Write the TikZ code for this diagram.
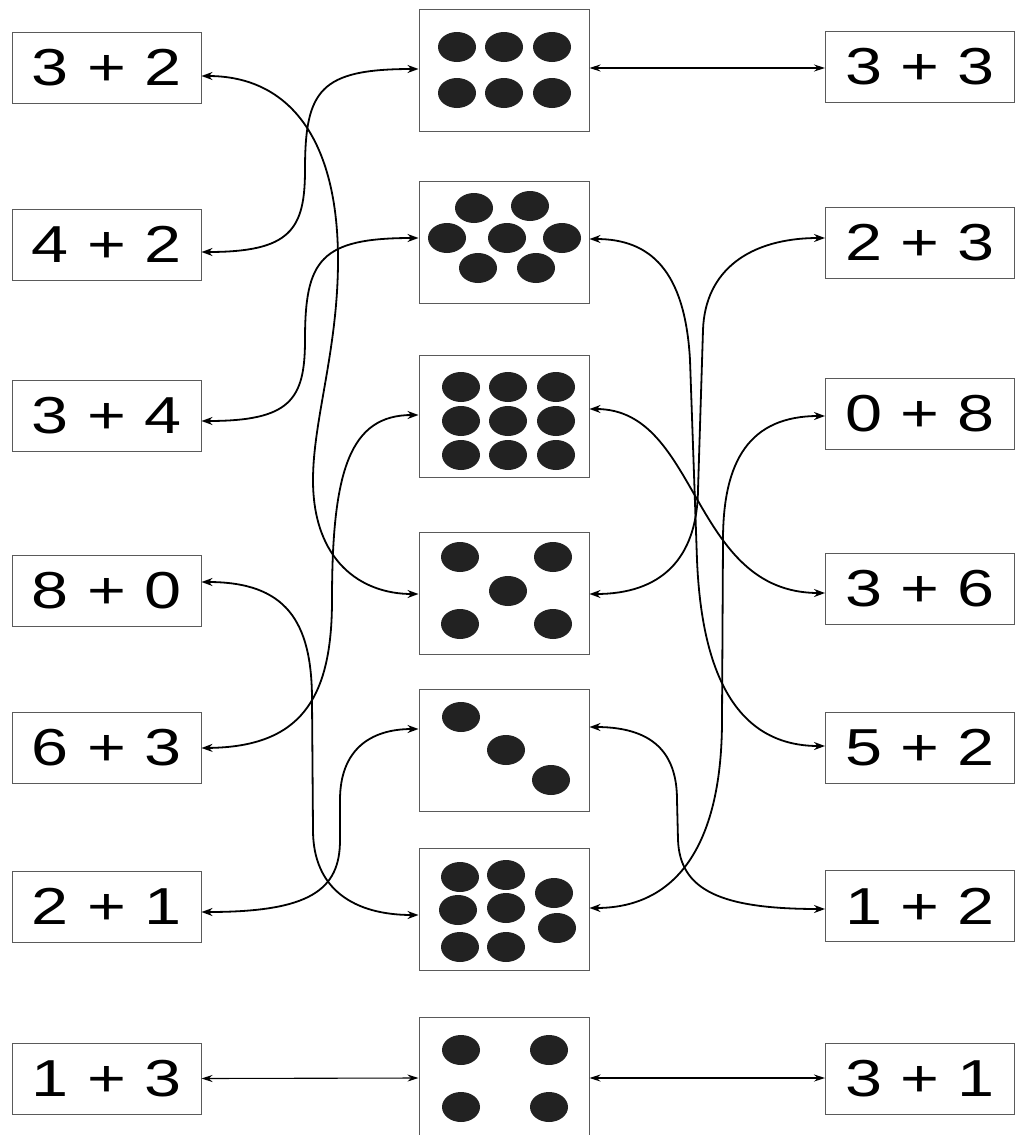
\documentclass[tikz,border=0pt]{standalone}
\usepackage{fontspec}
\setmainfont{Liberation Sans}
\usetikzlibrary{arrows.meta}
\definecolor{boxc}{HTML}{5A5A5A}
\definecolor{dotc}{HTML}{222222}
\begin{document}
\begin{tikzpicture}[x=1pt,y=-1pt,
  eqbox/.style={draw=boxc, line width=1pt, minimum width=189pt, minimum height=71pt, inner sep=0pt,
    font=\fontsize{52}{52}\selectfont, text=black},
  dotbox/.style={draw=boxc, line width=1pt, minimum width=170pt, minimum height=122pt, inner sep=0pt},
  dotf/.style={fill=dotc},
  link/.style={line width=1.8pt, {Stealth[length=11pt,width=8pt]}-{Stealth[length=11pt,width=8pt]}},
  flat/.style={line width=1.1pt, {Stealth[length=11pt,width=7pt]}-{Stealth[length=11pt,width=7pt]}}]
\useasboundingbox (0,0) rectangle (1019,1135);
\fill[white] (0,0) rectangle (1019,1135);

% left equation boxes
\node[eqbox] (L1) at (106.5,67.5)  {\scalebox{1.28}[1]{3 + 2}};
\node[eqbox] (L2) at (106.5,244.5) {\scalebox{1.28}[1]{4 + 2}};
\node[eqbox] (L3) at (106.5,416)   {\scalebox{1.28}[1]{3 + 4}};
\node[eqbox] (L4) at (106.5,590.5) {\scalebox{1.28}[1]{8 + 0}};
\node[eqbox] (L5) at (106.5,748)   {\scalebox{1.28}[1]{6 + 3}};
\node[eqbox] (L6) at (106.5,906.5) {\scalebox{1.28}[1]{2 + 1}};
\node[eqbox] (L7) at (106.5,1078.5){\scalebox{1.28}[1]{1 + 3}};

% right equation boxes
\node[eqbox] (R1) at (920,66.5)  {\scalebox{1.28}[1]{3 + 3}};
\node[eqbox] (R2) at (920,242.5) {\scalebox{1.28}[1]{2 + 3}};
\node[eqbox] (R3) at (920,414)   {\scalebox{1.28}[1]{0 + 8}};
\node[eqbox] (R4) at (920,589)   {\scalebox{1.28}[1]{3 + 6}};
\node[eqbox] (R5) at (920,747.5) {\scalebox{1.28}[1]{5 + 2}};
\node[eqbox] (R6) at (920,906)   {\scalebox{1.28}[1]{1 + 2}};
\node[eqbox] (R7) at (920,1078.5){\scalebox{1.28}[1]{3 + 1}};

% middle dot boxes
\node[dotbox] (M1) at (504,70) {};
\node[dotbox] (M2) at (504,242.5) {};
\node[dotbox] (M3) at (504,416) {};
\node[dotbox] (M4) at (504,593) {};
\node[dotbox] (M5) at (504,750.5) {};
\node[dotbox] (M6) at (504,909) {};
\node[dotbox] (M7) at (504,1078) {};

% dots
\foreach \p in {(457,47),(504,47),(552,47),(457,93),(504,93),(552,93),
  (474,208),(530,206),(447,238),(507,238),(562,238),(478,268),(536,268),
  (461,387),(508,387),(556,387),(461,421),(508,421),(556,421),(461,455),(508,455),(556,455),
  (460,557),(553,557),(508,591),(460,624),(553,624),
  (461,717),(506,750),(551,780),
  (460,877),(506,875),(458,910),(506,908),(460,947),(506,947),(554,893),(557,928),
  (461,1050),(549,1050),(461,1107),(549,1107)}
  \fill[dotf] \p ellipse [x radius=19, y radius=15];

% left connectors
\draw[link] ([yshift=-8.5pt]L1.east) .. controls (290,76) and (338,140) .. (338,260)
  .. controls (338,350) and (313,420) .. (313,480)
  .. controls (313,560) and (360,594) .. ([yshift=-1pt]M4.west);
\draw[link] ([yshift=-7.5pt]L2.east) .. controls (290,252) and (305,230) .. (305,170)
  .. controls (305,90) and (320,69) .. ([yshift=1pt]M1.west);
\draw[link] ([yshift=-5pt]L3.east) .. controls (290,421) and (305,400) .. (305,340)
  .. controls (305,260) and (320,238) .. ([yshift=4.5pt]M2.west);
\draw[link] ([yshift=8.5pt]L4.east) .. controls (285,582) and (312,620) .. (312,700)
  -- (313,830) .. controls (313,890) and (355,915) .. ([yshift=-6pt]M6.west);
\draw[link] (L5.east) .. controls (300,747) and (332,700) .. (332,600)
  .. controls (332,470) and (350,415) .. ([yshift=1pt]M3.west);
\draw[link] ([yshift=-5.5pt]L6.east) .. controls (310,912) and (340,890) .. (340,840)
  -- (340,800) .. controls (340,750) and (370,729) .. ([yshift=21.5pt]M5.west);
\draw[flat] (L7.east) -- (M7.west);

% right connectors
\draw[flat] ([yshift=2pt]M1.east) -- ([yshift=-1.5pt]R1.west);
\draw[link] ([yshift=-1pt]M4.east) .. controls (660,594) and (697,560) .. (698,490)
  -- (703,330) .. controls (705,270) and (750,238) .. ([yshift=4.5pt]R2.west);
\draw[link] ([yshift=3.5pt]M2.east) .. controls (650,239) and (685,270) .. (690,360)
  -- (697,560) .. controls (702,680) and (740,746) .. ([yshift=1.5pt]R5.west);
\draw[link] ([yshift=7pt]M3.east) .. controls (700,409) and (690,593) .. ([yshift=-4pt]R4.west);
\draw[link] ([yshift=-2pt]R3.west) .. controls (750,416) and (723,460) .. (723,540)
  -- (722,720) .. controls (722,840) and (680,908) .. ([yshift=1pt]M6.east);
\draw[link] ([yshift=23.5pt]M5.east) .. controls (660,727) and (677,760) .. (677,800)
  -- (678,840) .. controls (680,890) and (720,909) .. ([yshift=-3pt]R6.west);
\draw[flat] (M7.east) -- ([yshift=0.5pt]R7.west);
\end{tikzpicture}
\end{document}
